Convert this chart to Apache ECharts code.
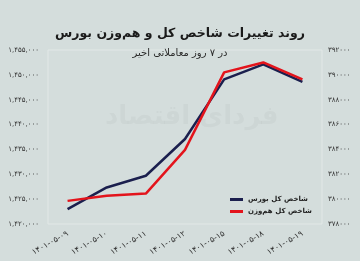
<!DOCTYPE html>
<html><head><meta charset="utf-8">
<script src="https://cdn.jsdelivr.net/npm/echarts@6/dist/echarts.min.js"></script>
<style>html,body{margin:0;padding:0;background:#d4dddc;}#c{width:360px;height:261px;}</style>
</head><body><div id="c"></div>
<script>
var categories = ['1401-05-09','1401-05-10','1401-05-11','1401-05-12','1401-05-15','1401-05-18','1401-05-19'];
var totalIndex = [1423000, 1427350, 1429700, 1437100, 1449100, 1452100, 1448600];
var equalWeightIndex = [379860, 380270, 380450, 383960, 390200, 391000, 389630];
var seriesNames = ['شاخص کل بورس', 'شاخص کل هم‌وزن'];
var titleText = 'روند تغییرات شاخص کل و هم‌وزن بورس';
var subtitleText = 'در ۷ روز معاملاتی اخیر';

function fa(s){ return String(s).replace(/[0-9]/g, function(d){ return '۰۱۲۳۴۵۶۷۸۹'[+d]; }); }
function commas(n){ return String(n).replace(/\B(?=(\d{3})+(?!\d))/g, ','); }

var font = 'DejaVu Sans';
var chart = echarts.init(document.getElementById('c'));
chart.setOption({
  backgroundColor: '#d4dddc',
  animation: false,
  textStyle: { fontFamily: font },
  title: [
    { text: titleText, left: 'center', top: 22, textStyle: { fontFamily: font, fontSize: 12.5, fontWeight: 'bold', color: '#1a1a1a' } },
    { text: subtitleText, left: 'center', top: 43, textStyle: { fontFamily: font, fontSize: 10, fontWeight: 'normal', color: '#2a2a2a' } }
  ],
  graphic: [{ type: 'text', left: 105, top: 104, silent: true, z: -1, style: { text: 'فردای اقتصاد', font: 'bold 26px DejaVu Sans', fill: 'rgba(0,0,0,0.03)' } }],
  legend: {
    orient: 'vertical', right: 43, top: 191, itemGap: 5,
    icon: 'rect', itemWidth: 13, itemHeight: 3,
    textStyle: { fontFamily: font, fontSize: 7, fontWeight: 'bold', color: '#1e1e1e' },
    data: seriesNames
  },
  grid: { left: 48, right: 38, top: 50, bottom: 37, show: true, borderColor: '#e2e8e7', borderWidth: 1 },
  xAxis: {
    type: 'category', data: categories, boundaryGap: true,
    axisLine: { show: false }, axisTick: { show: false },
    axisLabel: { rotate: 30, fontSize: 8, color: '#333', margin: 9, formatter: function(v){ return fa(v); } }
  },
  yAxis: [
    { type: 'value', min: 1420000, max: 1455000, interval: 5000, position: 'left',
      axisLine: { show: false }, axisTick: { show: false }, splitLine: { show: false },
      axisLabel: { fontSize: 7, color: '#333', margin: 9, formatter: function(v){ return fa(commas(v)); } } },
    { type: 'value', min: 378000, max: 392000, interval: 2000, position: 'right',
      axisLine: { show: false }, axisTick: { show: false }, splitLine: { show: false },
      axisLabel: { fontSize: 7, color: '#333', margin: 6, formatter: function(v){ return fa(v); } } }
  ],
  series: [
    { name: seriesNames[0], type: 'line', yAxisIndex: 0, data: totalIndex, symbol: 'none', lineStyle: { width: 2.5, color: '#1b1f4e' }, itemStyle: { color: '#1b1f4e' } },
    { name: seriesNames[1], type: 'line', yAxisIndex: 1, data: equalWeightIndex, symbol: 'none', lineStyle: { width: 2.5, color: '#e3141c' }, itemStyle: { color: '#e3141c' } }
  ]
});
</script></body></html>
